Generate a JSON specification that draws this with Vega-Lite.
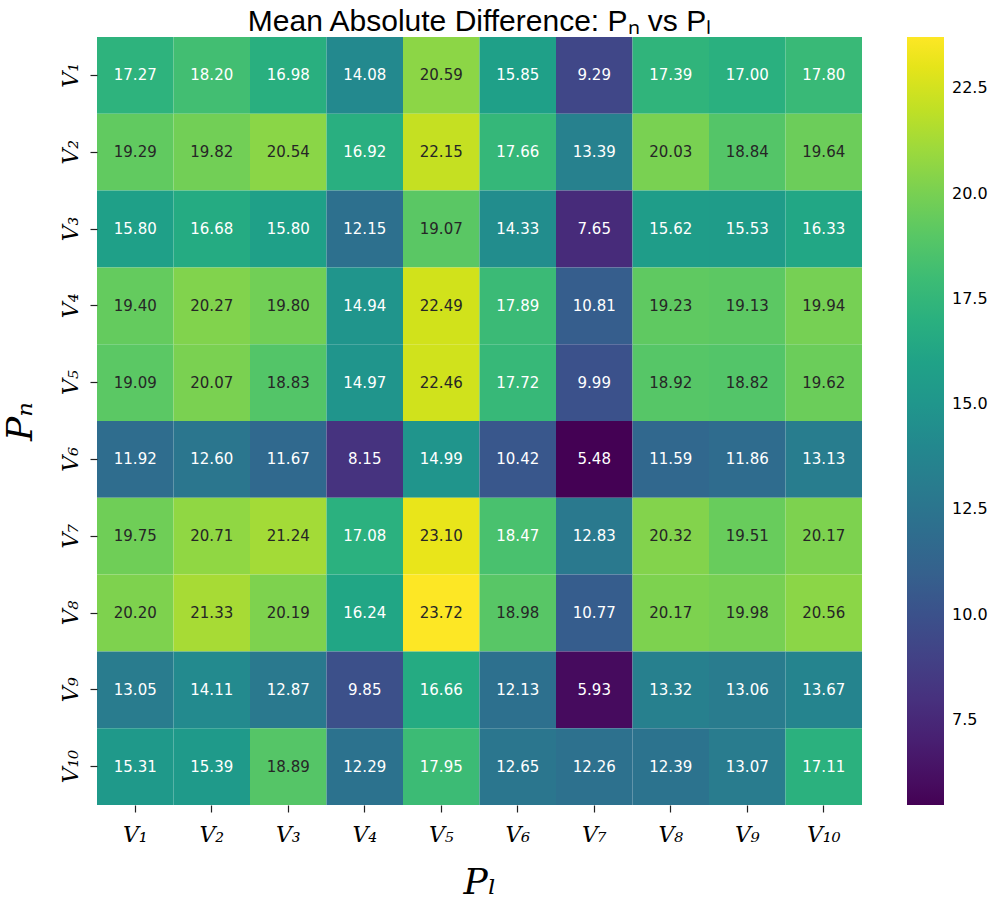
{
  "$schema": "https://vega.github.io/schema/vega-lite/v6.json",
  "autosize": "none",
  "padding": {"left": 97, "top": 37, "right": 139, "bottom": 101},
  "width": 765,
  "height": 768,
  "background": "white",
  "title": {"text": "Mean Absolute Difference: Pₙ vs Pₗ", "font": "Liberation Sans", "fontSize": 30, "fontWeight": "normal", "color": "black", "anchor": "middle", "offset": 0},
  "config": {"view": {"stroke": null}},
  "data": {"values": [
    {"r":1,"c":1,"v":17.27},{"r":1,"c":2,"v":18.20},{"r":1,"c":3,"v":16.98},{"r":1,"c":4,"v":14.08},{"r":1,"c":5,"v":20.59},{"r":1,"c":6,"v":15.85},{"r":1,"c":7,"v":9.29},{"r":1,"c":8,"v":17.39},{"r":1,"c":9,"v":17.00},{"r":1,"c":10,"v":17.80},
    {"r":2,"c":1,"v":19.29},{"r":2,"c":2,"v":19.82},{"r":2,"c":3,"v":20.54},{"r":2,"c":4,"v":16.92},{"r":2,"c":5,"v":22.15},{"r":2,"c":6,"v":17.66},{"r":2,"c":7,"v":13.39},{"r":2,"c":8,"v":20.03},{"r":2,"c":9,"v":18.84},{"r":2,"c":10,"v":19.64},
    {"r":3,"c":1,"v":15.80},{"r":3,"c":2,"v":16.68},{"r":3,"c":3,"v":15.80},{"r":3,"c":4,"v":12.15},{"r":3,"c":5,"v":19.07},{"r":3,"c":6,"v":14.33},{"r":3,"c":7,"v":7.65},{"r":3,"c":8,"v":15.62},{"r":3,"c":9,"v":15.53},{"r":3,"c":10,"v":16.33},
    {"r":4,"c":1,"v":19.40},{"r":4,"c":2,"v":20.27},{"r":4,"c":3,"v":19.80},{"r":4,"c":4,"v":14.94},{"r":4,"c":5,"v":22.49},{"r":4,"c":6,"v":17.89},{"r":4,"c":7,"v":10.81},{"r":4,"c":8,"v":19.23},{"r":4,"c":9,"v":19.13},{"r":4,"c":10,"v":19.94},
    {"r":5,"c":1,"v":19.09},{"r":5,"c":2,"v":20.07},{"r":5,"c":3,"v":18.83},{"r":5,"c":4,"v":14.97},{"r":5,"c":5,"v":22.46},{"r":5,"c":6,"v":17.72},{"r":5,"c":7,"v":9.99},{"r":5,"c":8,"v":18.92},{"r":5,"c":9,"v":18.82},{"r":5,"c":10,"v":19.62},
    {"r":6,"c":1,"v":11.92},{"r":6,"c":2,"v":12.60},{"r":6,"c":3,"v":11.67},{"r":6,"c":4,"v":8.15},{"r":6,"c":5,"v":14.99},{"r":6,"c":6,"v":10.42},{"r":6,"c":7,"v":5.48},{"r":6,"c":8,"v":11.59},{"r":6,"c":9,"v":11.86},{"r":6,"c":10,"v":13.13},
    {"r":7,"c":1,"v":19.75},{"r":7,"c":2,"v":20.71},{"r":7,"c":3,"v":21.24},{"r":7,"c":4,"v":17.08},{"r":7,"c":5,"v":23.10},{"r":7,"c":6,"v":18.47},{"r":7,"c":7,"v":12.83},{"r":7,"c":8,"v":20.32},{"r":7,"c":9,"v":19.51},{"r":7,"c":10,"v":20.17},
    {"r":8,"c":1,"v":20.20},{"r":8,"c":2,"v":21.33},{"r":8,"c":3,"v":20.19},{"r":8,"c":4,"v":16.24},{"r":8,"c":5,"v":23.72},{"r":8,"c":6,"v":18.98},{"r":8,"c":7,"v":10.77},{"r":8,"c":8,"v":20.17},{"r":8,"c":9,"v":19.98},{"r":8,"c":10,"v":20.56},
    {"r":9,"c":1,"v":13.05},{"r":9,"c":2,"v":14.11},{"r":9,"c":3,"v":12.87},{"r":9,"c":4,"v":9.85},{"r":9,"c":5,"v":16.66},{"r":9,"c":6,"v":12.13},{"r":9,"c":7,"v":5.93},{"r":9,"c":8,"v":13.32},{"r":9,"c":9,"v":13.06},{"r":9,"c":10,"v":13.67},
    {"r":10,"c":1,"v":15.31},{"r":10,"c":2,"v":15.39},{"r":10,"c":3,"v":18.89},{"r":10,"c":4,"v":12.29},{"r":10,"c":5,"v":17.95},{"r":10,"c":6,"v":12.65},{"r":10,"c":7,"v":12.26},{"r":10,"c":8,"v":12.39},{"r":10,"c":9,"v":13.07},{"r":10,"c":10,"v":17.11}
  ]},
  "encoding": {
    "x": {"field": "c", "type": "ordinal", "scale": {"paddingInner": 0, "paddingOuter": 0},
      "axis": {"title": "Pₗ", "titleFont": "DejaVu Serif", "titleFontStyle": "italic", "titleFontWeight": "normal", "titleFontSize": 36, "titleColor": "black", "titlePadding": 20,
        "labelExpr": "datum.value == 10 ? 'V₁₀' : 'V' + ['','₁','₂','₃','₄','₅','₆','₇','₈','₉'][datum.value]",
        "labelFont": "DejaVu Serif", "labelFontStyle": "italic", "labelFontSize": 22, "labelColor": "black", "labelAngle": 0, "labelPadding": 12,
        "domain": false, "ticks": true, "tickSize": 7, "tickColor": "#222", "tickWidth": 1.2}},
    "y": {"field": "r", "type": "ordinal", "scale": {"paddingInner": 0, "paddingOuter": 0},
      "axis": {"title": "Pₙ", "titleFont": "DejaVu Serif", "titleFontStyle": "italic", "titleFontWeight": "normal", "titleFontSize": 36, "titleColor": "black", "titlePadding": 20,
        "labelExpr": "datum.value == 10 ? 'V₁₀' : 'V' + ['','₁','₂','₃','₄','₅','₆','₇','₈','₉'][datum.value]",
        "labelFont": "DejaVu Serif", "labelFontStyle": "italic", "labelFontSize": 22, "labelColor": "black", "labelAngle": -90, "labelAlign": "center", "labelBaseline": "bottom", "labelPadding": 8,
        "domain": false, "ticks": true, "tickSize": 7, "tickColor": "#222", "tickWidth": 1.2}}
  },
  "layer": [
    {"mark": {"type": "rect"},
     "encoding": {"color": {"field": "v", "type": "quantitative",
        "scale": {"scheme": "viridis", "domain": [5.48, 23.72], "nice": false, "zero": false},
        "legend": {"title": null, "direction": "vertical", "gradientLength": 768, "gradientThickness": 37, "offset": 45,
          "values": [7.5, 10, 12.5, 15, 17.5, 20, 22.5], "format": ".1f",
          "labelFont": "DejaVu Sans", "labelFontSize": 16, "labelColor": "black", "labelOffset": 8, "gradientStrokeWidth": 0}}}},
    {"mark": {"type": "text", "font": "DejaVu Sans", "fontSize": 15},
     "encoding": {"text": {"field": "v", "type": "quantitative", "format": ".2f"},
       "color": {"condition": {"test": "datum.v > 18.6", "value": "#262626"}, "value": "white"}}}
  ]
}
